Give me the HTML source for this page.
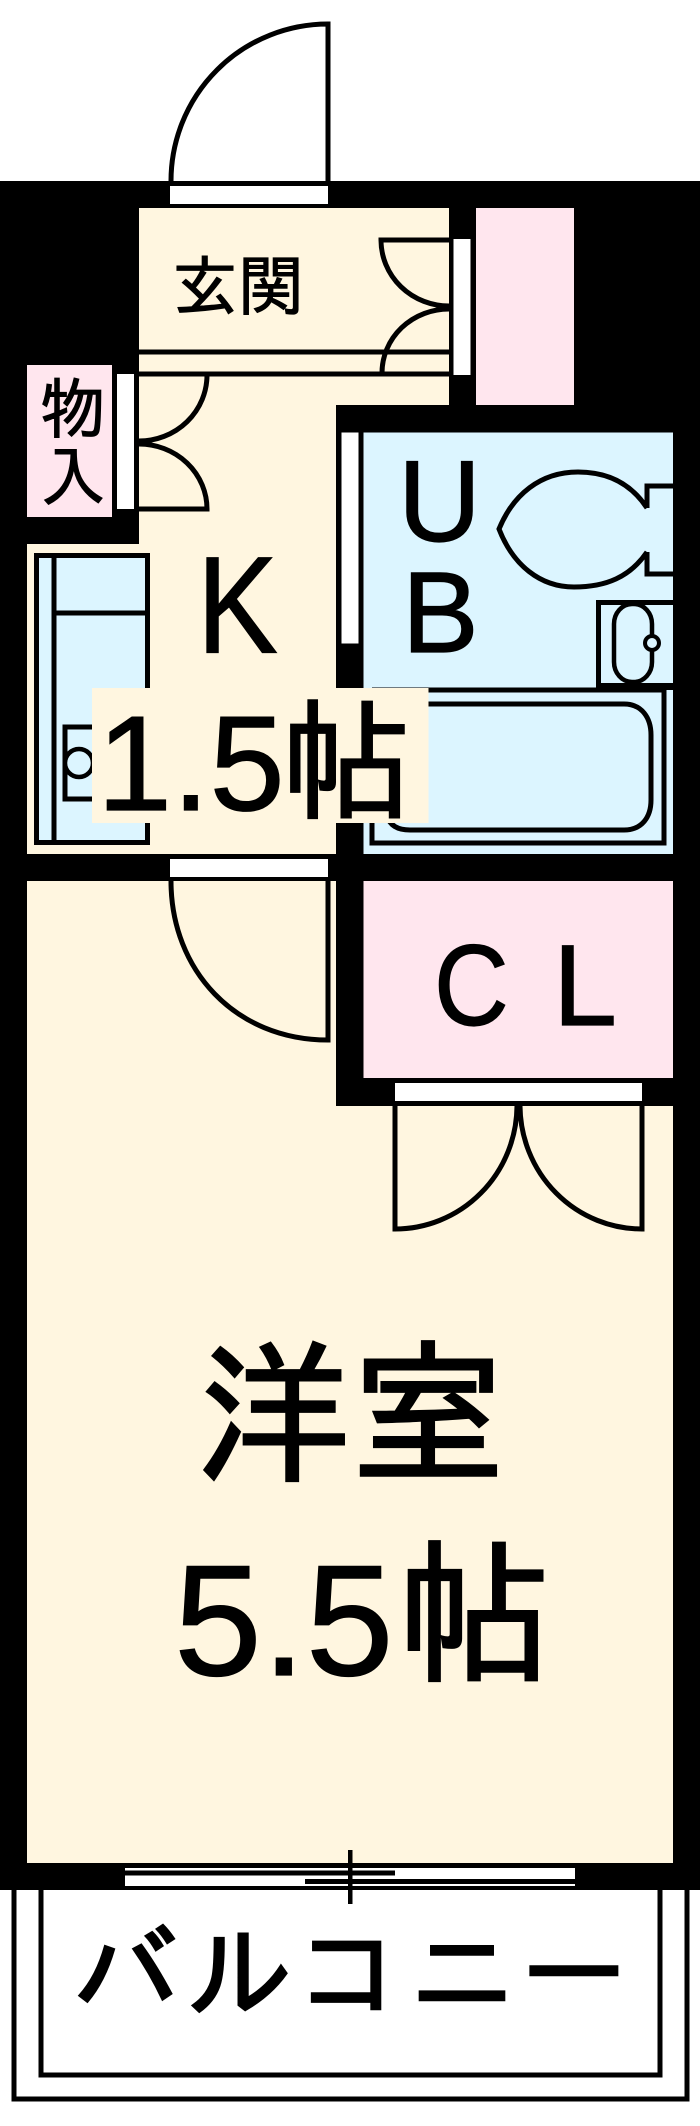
<!DOCTYPE html>
<html lang="ja">
<head>
<meta charset="utf-8">
<title>間取り図</title>
<style>
html,body{margin:0;padding:0;background:#fff}
svg{display:block}
.s{fill:none;stroke:#000;stroke-width:5}
.t{fill:none;stroke:#000;stroke-width:5}
.l{font-family:"Liberation Sans",sans-serif;fill:#000;stroke:#000;stroke-width:1.2}
.j{font-family:"IPAGothic","Noto Sans CJK JP",sans-serif;fill:#000;stroke:#000}
</style>
</head>
<body>
<svg xmlns="http://www.w3.org/2000/svg" width="700" height="2126" viewBox="0 0 700 2126">
<rect width="700" height="2126" fill="#fff"/>
<!-- entry door swing -->
<path class="s" d="M171,181 A157,157 0 0 1 328,24 V181"/>
<!-- black mass -->
<rect x="0" y="181" width="700" height="1709" fill="#000"/>
<!-- floors -->
<rect x="139" y="208" width="310" height="197" fill="#fff6e0"/>
<rect x="139" y="405" width="197" height="449" fill="#fff6e0"/>
<rect x="27" y="544" width="309" height="310" fill="#fff6e0"/>
<rect x="27" y="881" width="309" height="225" fill="#fff6e0"/>
<rect x="27" y="1106" width="646" height="757" fill="#fff6e0"/>
<!-- pink -->
<rect x="476" y="208" width="98" height="197" fill="#ffe6ee"/>
<rect x="27" y="365" width="85" height="152" fill="#ffe6ee"/>
<rect x="363.5" y="881" width="309.5" height="197" fill="#ffe6ee"/>
<!-- UB -->
<rect x="363.5" y="432.5" width="309.5" height="421.5" fill="#dcf5ff"/>
<!-- white door openings -->
<rect x="170" y="186" width="158" height="18" fill="#fff"/>
<rect x="453.5" y="239" width="17" height="136" fill="#fff"/>
<rect x="117" y="374" width="17" height="135" fill="#fff"/>
<rect x="341.5" y="432.5" width="17" height="211" fill="#fff"/>
<rect x="170" y="859" width="158" height="18" fill="#fff"/>
<rect x="395" y="1083" width="247" height="18" fill="#fff"/>
<!-- genkan doors and lines -->
<path class="s" d="M139,352 H449"/>
<path class="s" d="M139,374 H449"/>
<path class="s" d="M449,240 H381 A68,66 0 0 0 449,306"/>
<path class="s" d="M449,309 A67,64 0 0 0 382,373"/>
<path class="s" d="M139,441 A68,66 0 0 0 207,375"/>
<path class="s" d="M139,444 A68,65 0 0 1 207,509 H139"/>
<!-- kitchen counter -->
<rect x="36.5" y="555.5" width="111" height="287" fill="#dcf5ff" stroke="#000" stroke-width="5"/>
<path class="t" d="M54,555 V843"/>
<path class="t" d="M54,613 H147"/>
<path class="s" d="M95,727 H65 V799 H95"/>
<circle cx="79" cy="763" r="14" fill="#dcf5ff" stroke="#000" stroke-width="4.5"/>
<!-- toilet -->
<path class="s" d="M647,508 C630,482 606,472 578,472 C540,472 513,495 499,529 C513,565 540,587 574,587 C606,587 630,577 647,552"/>
<path class="s" d="M673,486 H647 V508"/>
<path class="s" d="M673,574 H647 V552"/>
<!-- vanity -->
<path class="s" d="M673,602.5 H598.5 V686"/>
<rect x="596" y="683" width="77" height="7" fill="#000"/>
<rect x="614" y="604" width="38" height="78" rx="18" ry="20" fill="none" stroke="#000" stroke-width="4.5"/>
<circle cx="652" cy="643" r="7" fill="#dcf5ff" stroke="#000" stroke-width="4"/>
<!-- tub -->
<path class="t" d="M372,690 H664 V843 H372 V690"/>
<path class="s" stroke-linecap="round" d="M395,704 H624 C642,704 651,718 651,735 V800 C651,817 642,830 624,830 H410 C398,830 390,826 387,816"/>
<!-- main door -->
<path class="s" d="M171,881 C171,970 235,1040 328,1040 V881"/>
<!-- CL doors -->
<path class="s" d="M395,1101 V1229 A122,124 0 0 0 517,1106"/>
<path class="s" d="M642,1101 V1229 A122,124 0 0 1 520,1106"/>
<!-- window -->
<rect x="125" y="1868" width="450" height="18" fill="#fff"/>
<rect x="125" y="1870.5" width="270" height="5" fill="#000"/>
<rect x="305" y="1879" width="270" height="5" fill="#000"/>
<rect x="348" y="1850" width="4.5" height="54" fill="#000"/>
<rect x="125" y="1876" width="180" height="10" fill="#fff"/>
<!-- balcony -->
<path class="s" d="M14,1890 V2099 H687 V1890"/>
<path class="s" d="M41,1890 V2075 H660 V1890"/>
<!-- label with background -->
<rect x="92" y="688" width="336.5" height="135" fill="#fff6e0"/>
<!-- text -->
<text class="j" x="172" y="310" font-size="66" stroke-width="1">玄関</text>
<text class="j" x="40" y="433" font-size="66" stroke-width="1">物</text>
<text class="j" x="40" y="501" font-size="66" stroke-width="1">入</text>
<text class="l" x="0" y="0" font-size="130" transform="translate(197,652.5) scale(.93,1.06)">K</text>
<text class="l" x="398" y="541" font-size="115">U</text>
<text class="l" x="402" y="652" font-size="115">B</text>
<text class="l" x="97" y="810" font-size="135">1.5</text>
<text class="j" x="281" y="809" font-size="131" stroke-width="2">帖</text>
<text class="l" x="0" y="0" font-size="115" transform="translate(434,1025) scale(.9,1)">C</text>
<text class="l" x="553" y="1025" font-size="115">L</text>
<text class="j" x="196" y="1470" font-size="155" stroke-width="2.5">洋室</text>
<text class="l" x="174" y="1675" font-size="158">5.5</text>
<text class="j" x="397" y="1670" font-size="155" stroke-width="2.5">帖</text>
<text class="j" x="73" y="2011" font-size="106" stroke-width="2.5">バ</text>
<text class="j" x="187" y="2011" font-size="106" stroke-width="2.5">ル</text>
<text class="j" x="296" y="2011" font-size="106" stroke-width="2.5">コ</text>
<text class="j" x="409" y="2011" font-size="106" stroke-width="2.5">ニ</text>
<text class="j" x="521" y="2011" font-size="106" stroke-width="2.5">ー</text>
</svg>
</body>
</html>
